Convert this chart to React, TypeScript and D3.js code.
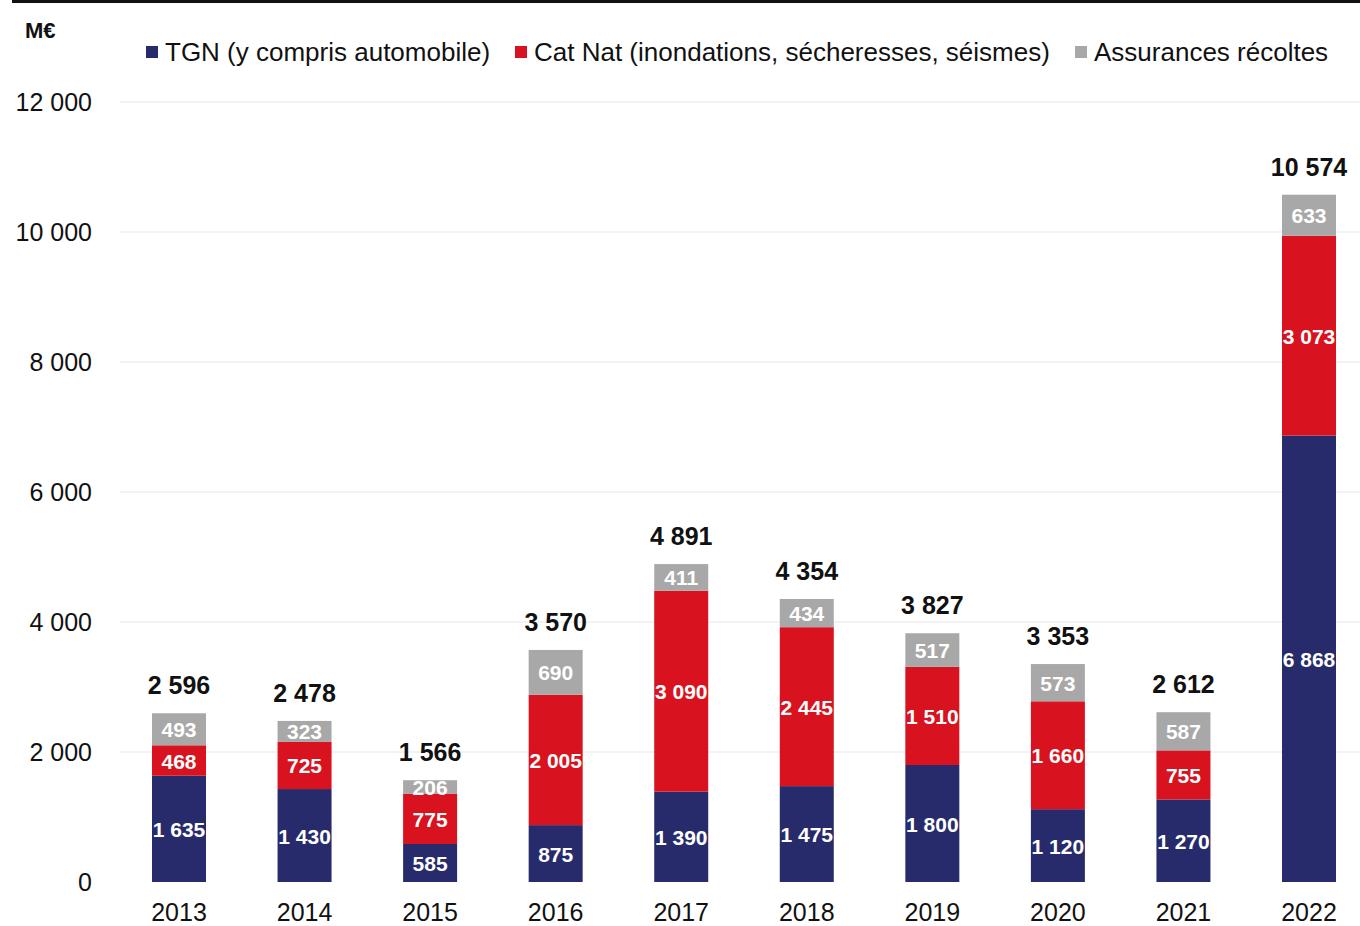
import { useEffect, useRef } from 'react';
import * as d3 from 'd3';

const years = ['2013', '2014', '2015', '2016', '2017', '2018', '2019', '2020', '2021', '2022'];
const tgn = [1635, 1430, 585, 875, 1390, 1475, 1800, 1120, 1270, 6868];
const catNat = [468, 725, 775, 2005, 3090, 2445, 1510, 1660, 755, 3073];
const recoltes = [493, 323, 206, 690, 411, 434, 517, 573, 587, 633];
const yTicks = [0, 2000, 4000, 6000, 8000, 10000, 12000];

const seriesKeys = ['tgn', 'catNat', 'recoltes'] as const;
const seriesNames = [
  'TGN (y compris automobile)',
  'Cat Nat (inondations, sécheresses, séismes)',
  'Assurances récoltes',
];
const colors = ['#272b6b', '#d8121e', '#a8a8a8'];

const fmt = (v: number) => d3.format(',')(v).replace(/,/g, ' ');

export default function App() {
  const ref = useRef<SVGSVGElement>(null);

  useEffect(() => {
    const svg = d3.select(ref.current);
    svg.selectAll('*').remove();

    const width = 1360;
    const font = "'Liberation Sans', Arial, sans-serif";

    const rows = years.map((year, i) => ({
      year,
      tgn: tgn[i],
      catNat: catNat[i],
      recoltes: recoltes[i],
    }));

    const x = d3.scaleBand().domain(years).range([152, 1336]).paddingInner(0.57).paddingOuter(0);
    const y = d3.scaleLinear().domain([0, 12000]).range([882, 102]);

    // top rule
    svg.append('rect').attr('x', 12).attr('y', 0).attr('width', width - 12).attr('height', 3).attr('fill', '#111');

    // gridlines (very faint)
    svg
      .selectAll('.grid')
      .data(yTicks.filter((t) => t > 0))
      .enter()
      .append('line')
      .attr('x1', 120)
      .attr('x2', width)
      .attr('y1', (d) => y(d))
      .attr('y2', (d) => y(d))
      .attr('stroke', '#efefef')
      .attr('stroke-width', 1.5);

    // y labels
    svg
      .selectAll('.ytick')
      .data(yTicks)
      .enter()
      .append('text')
      .attr('x', 92)
      .attr('y', (d) => y(d) + 9)
      .attr('text-anchor', 'end')
      .attr('font-family', font)
      .attr('font-size', '25px')
      .attr('fill', '#111')
      .text((d) => fmt(d));

    svg
      .append('text')
      .attr('x', 25)
      .attr('y', 38)
      .attr('font-family', font)
      .attr('font-size', '22px')
      .attr('font-weight', 'bold')
      .attr('fill', '#111')
      .text('M€');

    // legend
    const legendX = [146, 515, 1075];
    seriesNames.forEach((name, i) => {
      svg.append('rect').attr('x', legendX[i]).attr('y', 46).attr('width', 12).attr('height', 12).attr('fill', colors[i]);
      svg
        .append('text')
        .attr('x', legendX[i] + 19)
        .attr('y', 61)
        .attr('font-family', font)
        .attr('font-size', '26px')
        .attr('fill', '#111')
        .text(name);
    });

    // stacked bars
    const stacked = d3.stack<(typeof rows)[number]>().keys(seriesKeys as unknown as string[])(rows);

    stacked.forEach((layer, li) => {
      const g = svg.append('g');
      layer.forEach((seg) => {
        const d = seg.data;
        const x0 = x(d.year)!;
        g.append('rect')
          .attr('x', x0)
          .attr('width', x.bandwidth())
          .attr('y', y(seg[1]))
          .attr('height', y(seg[0]) - y(seg[1]))
          .attr('fill', colors[li]);
        g.append('text')
          .attr('x', x0 + x.bandwidth() / 2)
          .attr('y', (y(seg[0]) + y(seg[1])) / 2 + 8)
          .attr('text-anchor', 'middle')
          .attr('font-family', font)
          .attr('font-size', '21px')
          .attr('font-weight', 'bold')
          .attr('fill', '#fff')
          .text(fmt(seg[1] - seg[0]));
      });
    });

    // totals
    rows.forEach((d) => {
      const total = d.tgn + d.catNat + d.recoltes;
      svg
        .append('text')
        .attr('x', x(d.year)! + x.bandwidth() / 2)
        .attr('y', y(total) - 19)
        .attr('text-anchor', 'middle')
        .attr('font-family', font)
        .attr('font-size', '25px')
        .attr('font-weight', 'bold')
        .attr('fill', '#111')
        .text(fmt(total));
    });

    // x labels
    svg
      .selectAll('.xtick')
      .data(years)
      .enter()
      .append('text')
      .attr('x', (d) => x(d)! + x.bandwidth() / 2)
      .attr('y', 921)
      .attr('text-anchor', 'middle')
      .attr('font-family', font)
      .attr('font-size', '25px')
      .attr('fill', '#111')
      .text((d) => d);
  }, []);

  return (
    <div style={{ position: 'absolute', left: 0, top: 0 }}>
      <svg ref={ref} width={1360} height={926} style={{ display: 'block', background: '#fff' }} />
    </div>
  );
}
